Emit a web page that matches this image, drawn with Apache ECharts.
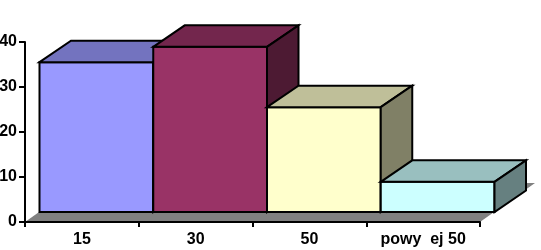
<!DOCTYPE html>
<html>
<head>
<meta charset="utf-8">
<script src="https://cdn.jsdelivr.net/npm/echarts@6/dist/echarts.min.js"></script>
<style>
html,body{margin:0;padding:0;background:#fff;}
#chart{width:541px;height:250px;}
</style>
</head>
<body>
<div id="chart"></div>
<script>
const categories = ['15', '30', '50', 'powy  ej 50'];
const values = [33.3, 36.7, 23.3, 6.7];
const yTicks = { min: 0, max: 40, interval: 10 };

const frontColors = ['#9999FF', '#993366', '#FFFFCC', '#CCFFFF'];
const FONT = 'Arial, "Liberation Sans", sans-serif';
// oblique depth geometry (pixels)
const FLOOR_DX = 55, FLOOR_DY = -39;
const OFF_DX = 14.5, OFF_DY = -10;
const BAR_DX = 31.5, BAR_DY = -21.5;

function shade(hex, f) {
  const n = parseInt(hex.slice(1), 16);
  const r = Math.round(((n >> 16) & 255) * f);
  const g = Math.round(((n >> 8) & 255) * f);
  const b = Math.round((n & 255) * f);
  return 'rgb(' + r + ',' + g + ',' + b + ')';
}

const chart = echarts.init(document.getElementById('chart'), null, { renderer: 'canvas' });

const edge = { stroke: '#000', lineWidth: 2, lineJoin: 'miter' };

chart.setOption({
  animation: false,
  backgroundColor: '#fff',
  grid: { left: 25, right: 61, top: 42, bottom: 28, containLabel: false, outerBoundsMode: 'none' },
  xAxis: {
    type: 'category',
    data: categories,
    z: 5,
    axisLine: { show: true, lineStyle: { color: '#000', width: 2 } },
    axisTick: { show: true, length: 5, interval: 0, lineStyle: { color: '#000', width: 2 } },
    axisLabel: { color: '#000', fontFamily: FONT, fontWeight: 'bold', fontSize: 16, margin: 10, interval: 0 },
    splitLine: { show: false }
  },
  yAxis: {
    type: 'value',
    min: yTicks.min, max: yTicks.max, interval: yTicks.interval,
    z: 5,
    axisLine: { show: true, lineStyle: { color: '#000', width: 2 } },
    axisTick: { show: true, length: 6, lineStyle: { color: '#000', width: 2 } },
    axisLabel: { color: '#000', fontFamily: FONT, fontWeight: 'bold', fontSize: 16, margin: 8 },
    splitLine: { show: false }
  },
  series: [
    {
      type: 'custom',
      z: 1,
      silent: true,
      data: [[0, 0]],
      renderItem: function (params, api) {
        const bw = api.size([1, 0])[0];
        const a = api.coord([0, 0]);
        const b = api.coord([categories.length - 1, 0]);
        const L = a[0] - bw / 2, R = b[0] + bw / 2, y = a[1];
        return {
          type: 'polygon',
          shape: { points: [[L, y], [R, y], [R + FLOOR_DX, y + FLOOR_DY], [L + FLOOR_DX, y + FLOOR_DY]] },
          style: { fill: '#808080' }
        };
      }
    },
    {
      type: 'custom',
      z: 2,
      data: values.map((v, i) => [i, v]),
      renderItem: function (params, api) {
        const i = api.value(0), v = api.value(1);
        const bw = api.size([1, 0])[0];
        const base = api.coord([i, 0]);
        const top = api.coord([i, v]);
        const x0 = base[0] - bw / 2 + OFF_DX, x1 = x0 + bw;
        const yb = base[1] + OFF_DY, yt = top[1] + OFF_DY;
        const c = frontColors[i % frontColors.length];
        return {
          type: 'group',
          children: [
            { type: 'polygon', shape: { points: [[x0, yt], [x1, yt], [x1, yb], [x0, yb]] },
              style: Object.assign({ fill: c }, edge) },
            { type: 'polygon', shape: { points: [[x0, yt], [x0 + BAR_DX, yt + BAR_DY], [x1 + BAR_DX, yt + BAR_DY], [x1, yt]] },
              style: Object.assign({ fill: shade(c, 0.75) }, edge) },
            { type: 'polygon', shape: { points: [[x1, yt], [x1 + BAR_DX, yt + BAR_DY], [x1 + BAR_DX, yb + BAR_DY], [x1, yb]] },
              style: Object.assign({ fill: shade(c, 0.5) }, edge) }
          ]
        };
      }
    }
  ]
});
</script>
</body>
</html>
